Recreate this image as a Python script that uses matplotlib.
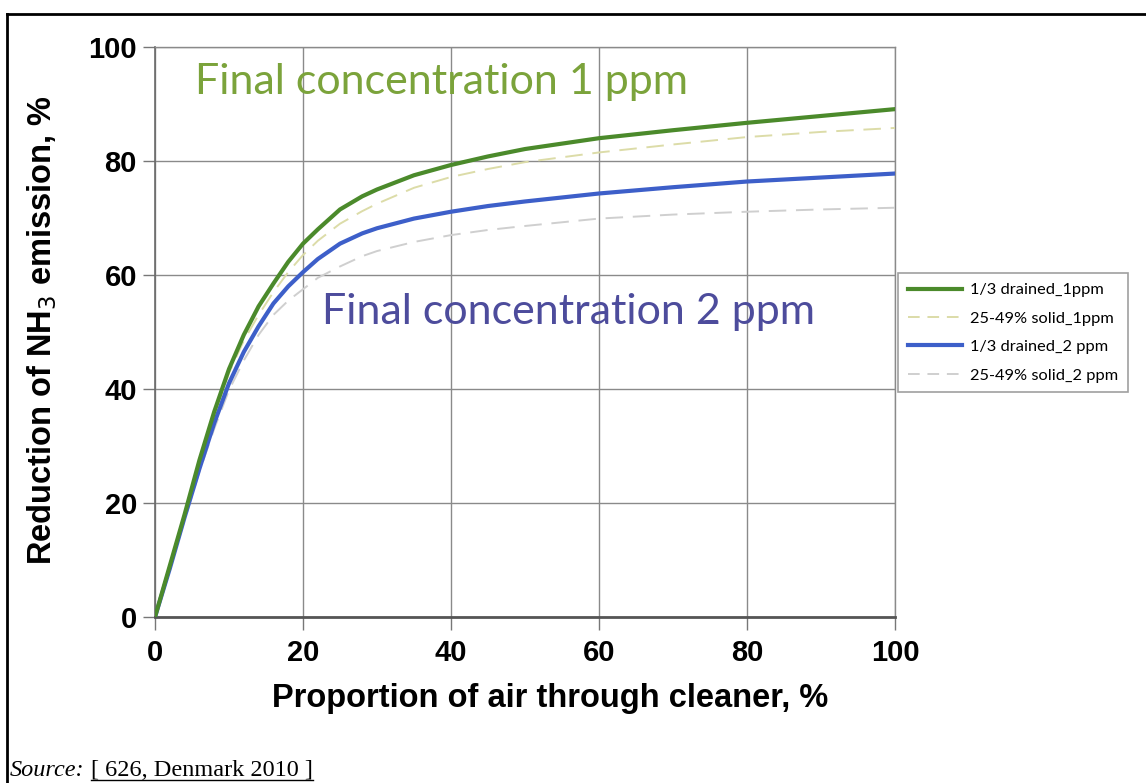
import matplotlib
matplotlib.use("Agg")
import matplotlib.pyplot as plt
from matplotlib.lines import Line2D

# ---- data ----
x_vals = [0, 2, 4, 6, 8, 10, 12, 14, 16, 18, 20, 22, 25, 28, 30, 35, 40, 45, 50, 60, 70, 80, 90, 100]
drained_1ppm = [0, 9, 18, 27.5, 36, 43.5, 49.5, 54.5, 58.5, 62.3, 65.5, 68, 71.5, 73.8, 75, 77.5,
                79.3, 80.8, 82.1, 84, 85.4, 86.7, 87.9, 89.1]
solid_1ppm = [0, 8.8, 17.8, 27, 35.5, 42.8, 48.5, 53, 57, 60.5, 63.5, 66, 69, 71.2, 72.5, 75.3,
              77.2, 78.6, 79.8, 81.5, 82.9, 84.2, 85.1, 85.8]
drained_2ppm = [0, 8.5, 17.5, 26, 34, 41, 46.5, 51, 55, 58, 60.5, 62.8, 65.5, 67.3, 68.2, 69.9,
                71.1, 72.1, 72.9, 74.3, 75.4, 76.4, 77.1, 77.8]
solid_2ppm = [0, 8.3, 17, 25.5, 33, 39.8, 45, 49.5, 53, 55.5, 57.5, 59.5, 61.5, 63.3, 64.2, 65.8,
              67, 67.9, 68.6, 69.9, 70.6, 71.1, 71.5, 71.8]
series_labels = ["1/3 drained_1ppm", "25-49% solid_1ppm", "1/3 drained_2 ppm", "25-49% solid_2 ppm"]
ticks = [0, 20, 40, 60, 80, 100]

W, H = 1146, 783
fig = plt.figure(figsize=(W / 100, H / 100), dpi=100)
ax = fig.add_axes([155 / W, 166 / H, 740 / W, 570 / H])

c_g = "#4b8a2b"
c_gd = "#dcdca8"
c_b = "#3d5fc9"
c_bd = "#cfcfcf"

ax.plot(x_vals, solid_1ppm, color=c_gd, lw=1.4, ls=(0, (9, 5)), zorder=3)
ax.plot(x_vals, solid_2ppm, color=c_bd, lw=1.4, ls=(0, (9, 5)), zorder=3)
ax.plot(x_vals, drained_2ppm, color=c_b, lw=3, zorder=4)
ax.plot(x_vals, drained_1ppm, color=c_g, lw=3, zorder=5)

ax.set_xlim(0, 100)
ax.set_ylim(0, 100)
ax.set_xticks(ticks)
ax.set_yticks(ticks)
ax.set_xticklabels([str(t) for t in ticks], fontsize=21, fontweight="bold", family="Liberation Sans")
ax.set_yticklabels([str(t) for t in ticks], fontsize=21, fontweight="bold", family="Liberation Sans")
ax.grid(True, color="#8a8a8a", lw=1.0, zorder=1)
for s in ["top", "right"]:
    ax.spines[s].set_color("#8a8a8a")
    ax.spines[s].set_linewidth(1.0)
ax.spines["left"].set_color("#6a6a6a")
ax.spines["left"].set_linewidth(1.2)
ax.spines["bottom"].set_color("#555555")
ax.spines["bottom"].set_linewidth(2.0)
ax.tick_params(axis="x", direction="out", length=9, width=1, color="#777777", pad=7)
ax.tick_params(axis="y", direction="out", length=9, width=1, color="#777777", pad=4)
ax.set_axisbelow(True)

ax.set_xlabel("Proportion of air through cleaner, %", fontsize=23.5, fontweight="bold",
              family="Liberation Sans")
ax.xaxis.set_label_coords((550 - 155) / 740, -(683 - 617) / 570)
ax.set_ylabel("Reduction of NH$_3$ emission, %", fontsize=23.5, fontweight="bold",
              family="Liberation Sans")
ax.yaxis.set_label_coords(-(155 - 59) / 740, (617 - 330) / 570)

ax.text(5.4, 93.8, "Final concentration 1 ppm", color="#7ba33b", fontsize=31,
        family="Lato", va="center", ha="left", zorder=6)
ax.text(22.6, 53.5, "Final concentration 2 ppm", color="#4d4c9c", fontsize=31,
        family="Lato", va="center", ha="left", zorder=6)

handles = [
    Line2D([], [], color=c_g, lw=3),
    Line2D([], [], color=c_gd, lw=1.4, ls=(0, (6, 4))),
    Line2D([], [], color=c_b, lw=3),
    Line2D([], [], color=c_bd, lw=1.4, ls=(0, (6, 4))),
]
leg = fig.legend(handles, series_labels, loc="upper left",
                 bbox_to_anchor=(898 / W, 1 - 273 / H),
                 prop={"family": "Lato", "size": 11.8}, frameon=True, fancybox=False,
                 edgecolor="#888888", handlelength=3.3, handletextpad=0.5,
                 borderpad=0.6, labelspacing=0.85, borderaxespad=0)
leg.get_frame().set_linewidth(1.2)

# outer frame (left and top)
fig.add_artist(Line2D([7 / W, 7 / W], [0, 1 - 14 / H], color="black", lw=2,
                      transform=fig.transFigure))
fig.add_artist(Line2D([7 / W, 1], [1 - 14 / H, 1 - 14 / H], color="black", lw=2,
                      transform=fig.transFigure))

t1 = fig.text(10 / W, 1 - 771 / H, "Source:", fontsize=17.5, family="Liberation Serif",
              style="italic", va="center", ha="left")
fig.canvas.draw()
b1 = t1.get_window_extent()
t2 = fig.text((b1.x1 + 6) / W, 1 - 771 / H, "[ 626, Denmark 2010 ]", fontsize=17.5,
              family="Liberation Serif", va="center", ha="left")
fig.canvas.draw()
bb = t2.get_window_extent()
fig.add_artist(Line2D([bb.x0 / W, bb.x1 / W], [(bb.y0 + 2) / H, (bb.y0 + 2) / H],
                      color="black", lw=1, transform=fig.transFigure))

fig.savefig("out.png", dpi=100)
